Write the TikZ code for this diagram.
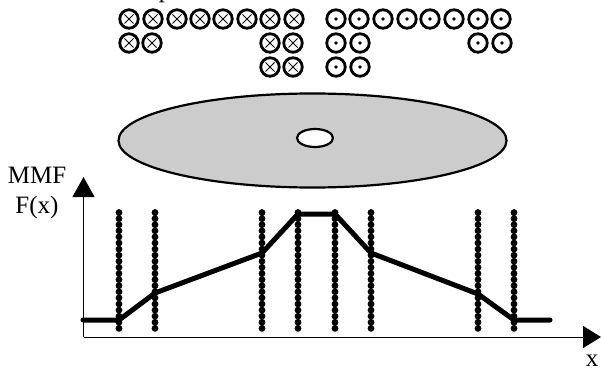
\documentclass[tikz,border=0pt]{standalone}
\usepackage{fontspec}
\setmainfont{Liberation Serif}
\usetikzlibrary{arrows.meta,shapes.geometric}
\tikzset{
	into/.style={draw,circle,line width=2.8pt,minimum size=18.5pt,inner sep=0pt,
		path picture={\draw[line width=.9pt] (path picture bounding box.center) +(-4.5pt,-4.5pt) -- +(4.5pt,4.5pt) +(-4.5pt,4.5pt) -- +(4.5pt,-4.5pt);}},
	outof/.style={draw,circle,line width=2.8pt,minimum size=18.5pt,inner sep=0pt,
		path picture={\fill (path picture bounding box.center) circle (1.8pt);}},
	slot/.style={line width=6.8pt,dash pattern=on 0pt off 6.1pt,line cap=round},
	lbl/.style={font=\fontsize{25pt}{27pt}\selectfont,inner sep=0pt}
}
\begin{document}
\begin{tikzpicture}[x=1pt,y=-1pt]
	\useasboundingbox (0,0) rectangle (601,371);
	% conductors
	\foreach \x [count=\n] in {129,153,177,200,223,247,270,294}
		\node[into] (A\n) at (\x,19) {};
	\foreach \x [count=\n] in {129,152,270,293}
		\node[into] (B\n) at (\x,43) {};
	\foreach \x [count=\n] in {270,293}
		\node[into] (C\n) at (\x,67) {};
	\foreach \x [count=\n] in {336,359,383,407,430,454,478,501}
		\node[outof] (D\n) at (\x,19) {};
	\foreach \x [count=\n] in {336,360,478,502}
		\node[outof] (E\n) at (\x,43) {};
	\foreach \x [count=\n] in {336,360}
		\node[outof] (F\n) at (\x,67) {};
	\node[lbl,anchor=base] (cut) at (165,-2) {p};
	% rotor
	\node[draw,ellipse,line width=2.2pt,fill=black!20,minimum width=388pt,minimum height=94pt,inner sep=0pt] (disc) at (312.5,140.5) {};
	\node[draw,ellipse,line width=2.2pt,fill=white,minimum width=36pt,minimum height=18pt,inner sep=0pt] (hole) at (315,138) {};
	% axes
	\coordinate (O) at (83.5,337);
	\coordinate (ytop) at (83.5,177);
	\coordinate (xend) at (601,337);
	\draw[-{Triangle[length=20pt,width=22pt]},line width=1pt] (O) -- (ytop);
	\draw[-{Triangle[length=18pt,width=22pt]},line width=1pt] (O) -- (xend);
	\node[lbl] (mmf) at (37,175) {MMF};
	\node[lbl] (fx) at (37,207) {F(x)};
	\node[lbl] (xlabel) at (592,361) {x};
	% slots
	\foreach \x [count=\n] in {119,155,262,298,335,371,478,514}
	{
		\coordinate (S\n) at (\x,212.5);
		\coordinate (T\n) at (\x,329);
		\draw[slot] (S\n) -- (T\n);
	}
	% mmf curve
	\coordinate (P0) at (83,320);
	\coordinate (P1) at (119,320);
	\coordinate (P2) at (155,293);
	\coordinate (P3) at (262,253);
	\coordinate (P4) at (298,214);
	\coordinate (P5) at (335,214);
	\coordinate (P6) at (371,253);
	\coordinate (P7) at (478,294);
	\coordinate (P8) at (514,320);
	\coordinate (P9) at (550,320);
	\draw[line width=5pt,line cap=round] (P0) -- (P1) -- (P2) -- (P3) -- (P4) -- (P5) -- (P6) -- (P7) -- (P8) -- (P9);
\end{tikzpicture}
\end{document}
